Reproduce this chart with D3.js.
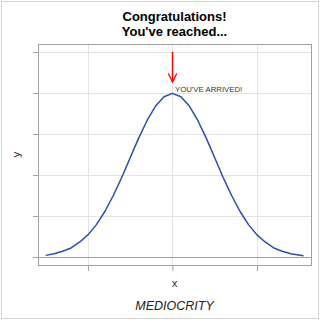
<!DOCTYPE html>
<html>
<head>
<meta charset="utf-8">
<script src="https://cdn.jsdelivr.net/npm/d3@7"></script>
<style>
  body { margin: 0; background: #fff; }
  svg { display: block; font-family: "Liberation Sans", Arial, sans-serif; }
</style>
</head>
<body>
<div id="chart"></div>
<script>
// curve points
var xs = [-3.0, -2.8, -2.6, -2.4, -2.2, -2.0, -1.8, -1.6, -1.4, -1.2, -1.0, -0.8, -0.6, -0.4, -0.2,
          0.0, 0.2, 0.4, 0.6, 0.8, 1.0, 1.2, 1.4, 1.6, 1.8, 2.0, 2.2, 2.4, 2.6, 2.8, 3.1];
var ys = [0.004, 0.008, 0.014, 0.022, 0.036, 0.054, 0.079, 0.111, 0.150, 0.194, 0.242, 0.290, 0.333, 0.368, 0.391,
          0.399, 0.391, 0.368, 0.333, 0.290, 0.242, 0.194, 0.150, 0.111, 0.079, 0.054, 0.036, 0.022, 0.014, 0.008, 0.003];
var xTicks = [-2, 0, 2];
var yTicks = [0, 0.1, 0.2, 0.3, 0.4, 0.5];
var titleLines = ["Congratulations!", "You've reached..."];
var note = "YOU'VE ARRIVED!";
var arrow = {x: 0, y1: 0.5, y2: 0.427};

var W = 320, H = 320;
var margin = {top: 44, right: 9, bottom: 55, left: 38},
    width = W - margin.left - margin.right,
    height = H - margin.top - margin.bottom;

var svg = d3.select("#chart")
  .append("svg")
    .attr("width", W)
    .attr("height", H);

// outer border
svg.append("rect")
  .attr("x", 1.5).attr("y", 1.5)
  .attr("width", 317).attr("height", 317)
  .attr("fill", "none")
  .attr("stroke", "#d4d4d4");

var g = svg.append("g")
  .attr("transform", "translate(" + margin.left + "," + margin.top + ")");

var x = d3.scaleLinear()
  .domain([-3.182, 3.279])
  .range([0, width]);

var y = d3.scaleLinear()
  .domain([-0.0195, 0.5195])
  .range([height, 0]);

// grid
g.selectAll(".vgrid")
  .data(xTicks)
  .enter().append("line")
    .attr("x1", function(d) { return Math.round(x(d)) + 0.5; })
    .attr("x2", function(d) { return Math.round(x(d)) + 0.5; })
    .attr("y1", 0).attr("y2", height)
    .attr("stroke", "#e4e4e4");
g.selectAll(".hgrid")
  .data(yTicks.slice(1))
  .enter().append("line")
    .attr("x1", 0).attr("x2", width)
    .attr("y1", function(d) { return Math.round(y(d)) + 0.5; })
    .attr("y2", function(d) { return Math.round(y(d)) + 0.5; })
    .attr("stroke", "#e4e4e4");

// zero reference line
g.append("line")
  .attr("x1", 0).attr("x2", width)
  .attr("y1", Math.round(y(0)) + 0.5).attr("y2", Math.round(y(0)) + 0.5)
  .attr("stroke", "#a0a0a0");

// axes (no labels)
var xAxis = g.append("g")
  .attr("transform", "translate(0," + height + ")")
  .call(d3.axisBottom(x).tickValues(xTicks).tickFormat("").tickSize(6).tickSizeOuter(0));
var yAxis = g.append("g")
  .call(d3.axisLeft(y).tickValues(yTicks).tickFormat("").tickSize(5).tickSizeOuter(0));
[xAxis, yAxis].forEach(function(a) {
  a.select(".domain").remove();
  a.selectAll("line").attr("stroke", "#a0a0a0");
});

// frame
g.append("rect")
  .attr("x", 0.5).attr("y", 0.5)
  .attr("width", width).attr("height", height)
  .attr("fill", "none")
  .attr("stroke", "#a0a0a0");

// the curve
var pts = xs.map(function(v, i) { return [v, ys[i]]; });
g.append("path")
  .datum(pts)
  .attr("fill", "none")
  .attr("stroke", "#2a4db0")
  .attr("stroke-width", 1.5)
  .attr("stroke-linejoin", "round")
  .attr("d", d3.line()
    .x(function(d) { return x(d[0]); })
    .y(function(d) { return y(d[1]); }));

// arrow
var ax = Math.round(x(arrow.x)) + 0.5;
g.append("line")
  .attr("x1", ax).attr("x2", ax)
  .attr("y1", y(arrow.y1)).attr("y2", y(arrow.y2))
  .attr("stroke", "#ff0000")
  .attr("stroke-width", 1.5);
g.append("path")
  .attr("d", "M" + (ax - 4.2) + "," + (y(arrow.y2) - 8.5) + "L" + ax + "," + y(arrow.y2) + "L" + (ax + 4.2) + "," + (y(arrow.y2) - 8.5))
  .attr("fill", "none")
  .attr("stroke", "#ff0000")
  .attr("stroke-width", 1.3);

// annotation
g.append("text")
  .attr("x", x(arrow.x) + 2.5)
  .attr("y", y(0.403))
  .attr("font-size", 7.8)
  .attr("fill", "#333")
  .text(note);

// titles
var cx = margin.left + width / 2;
svg.selectAll(".title")
  .data(titleLines)
  .enter().append("text")
    .attr("x", cx)
    .attr("y", function(d, i) { return 20.5 + i * 15.5; })
    .attr("text-anchor", "middle")
    .attr("font-size", 13)
    .attr("font-weight", "bold")
    .attr("fill", "#000")
    .text(function(d) { return d; });

// axis labels
svg.append("text")
  .attr("x", cx).attr("y", 287)
  .attr("text-anchor", "middle")
  .attr("font-size", 11.5)
  .attr("fill", "#333")
  .text("x");
svg.append("text")
  .attr("transform", "translate(20," + (margin.top + height / 2) + ")rotate(-90)")
  .attr("text-anchor", "middle")
  .attr("font-size", 11.5)
  .attr("fill", "#333")
  .text("y");
svg.append("text")
  .attr("x", cx).attr("y", 310)
  .attr("text-anchor", "middle")
  .attr("font-size", 12.5)
  .attr("font-style", "italic")
  .attr("fill", "#222")
  .text("MEDIOCRITY");
</script>
</body>
</html>
